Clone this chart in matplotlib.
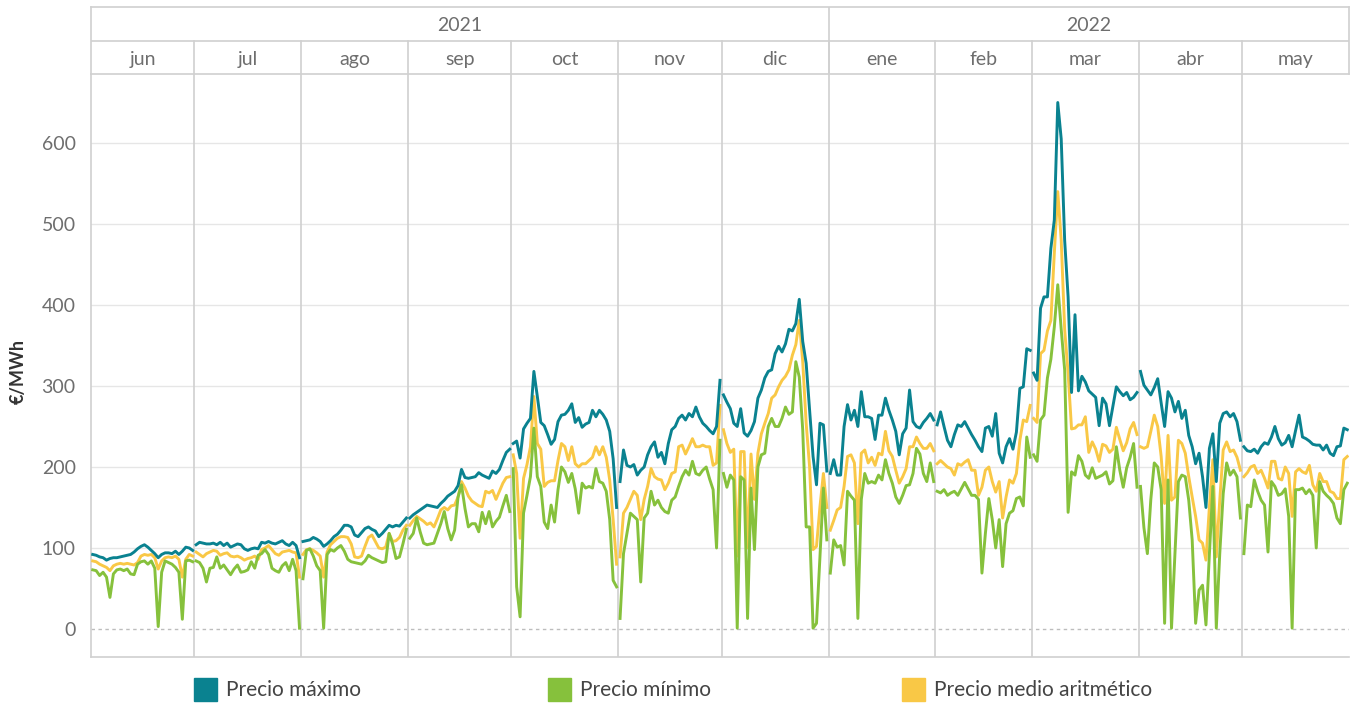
import numpy as np
import matplotlib.pyplot as plt
from matplotlib.patches import Rectangle

plt.rcParams['font.family'] = ['Lato', 'DejaVu Sans']

# Month panes (jun 2021 - may 2022)
months = ['jun', 'jul', 'ago', 'sep', 'oct', 'nov', 'dic', 'ene', 'feb', 'mar', 'abr', 'may']
month_days = [30, 31, 31, 30, 31, 30, 31, 31, 28, 31, 30, 31]
years = ['2021', '2022']
year_months = [7, 5]

# Daily prices, EUR/MWh, one row per month
precio_max = [
    [92, 91, 89, 88, 85, 87, 88, 88, 89, 90, 91, 92, 95, 99, 102, 104, 101, 97, 93, 88, 92, 94, 94, 93, 96, 92, 96, 101, 100, 97],
    [104, 107, 106, 105, 105, 106, 104, 107, 103, 106, 101, 103, 105, 104, 99, 97, 99, 100, 99, 107, 106, 108, 106, 105, 107, 109, 105, 103, 107, 103, 88],
    [108, 109, 110, 113, 111, 108, 102, 105, 109, 114, 117, 122, 128, 128, 126, 116, 114, 119, 124, 126, 123, 121, 114, 118, 123, 128, 126, 128, 127, 132, 137],
    [137, 141, 144, 147, 150, 153, 152, 151, 150, 155, 159, 164, 167, 170, 177, 197, 187, 186, 187, 188, 193, 190, 188, 186, 195, 192, 197, 208, 218, 222],
    [229, 232, 211, 247, 254, 260, 318, 287, 255, 251, 240, 228, 234, 256, 264, 265, 270, 278, 255, 261, 249, 253, 255, 270, 262, 270, 265, 258, 244, 210, 150],
    [182, 221, 202, 200, 203, 190, 196, 200, 215, 225, 231, 212, 218, 204, 229, 246, 250, 260, 264, 258, 266, 262, 274, 262, 254, 250, 245, 241, 250, 307],
    [289, 280, 272, 254, 250, 272, 242, 238, 245, 256, 285, 295, 310, 318, 320, 340, 349, 342, 352, 370, 368, 377, 407, 355, 328, 270, 213, 178, 254, 252, 195],
    [192, 209, 190, 190, 250, 277, 258, 270, 250, 293, 262, 262, 260, 234, 264, 264, 285, 270, 258, 244, 215, 241, 248, 295, 256, 250, 248, 255, 260, 266, 258],
    [252, 268, 250, 233, 225, 240, 252, 250, 256, 248, 240, 233, 225, 219, 248, 250, 238, 266, 217, 205, 225, 235, 222, 243, 297, 299, 346, 344],
    [316, 307, 396, 410, 410, 470, 505, 650, 605, 480, 410, 292, 388, 294, 312, 305, 294, 290, 286, 251, 285, 278, 251, 275, 299, 293, 288, 292, 283, 286, 292],
    [318, 301, 295, 289, 298, 309, 279, 250, 293, 285, 268, 281, 260, 270, 239, 225, 204, 217, 188, 150, 223, 241, 182, 254, 266, 268, 262, 266, 256, 233],
    [225, 220, 219, 222, 217, 225, 230, 228, 237, 250, 235, 227, 230, 239, 225, 245, 264, 237, 235, 232, 228, 227, 227, 221, 227, 217, 214, 225, 226, 248, 246],
]

precio_min = [
    [73, 72, 66, 70, 64, 39, 68, 73, 74, 72, 74, 68, 67, 80, 83, 84, 80, 84, 75, 3, 70, 84, 82, 80, 76, 70, 12, 84, 85, 83],
    [84, 82, 75, 58, 75, 76, 89, 75, 79, 73, 67, 74, 79, 70, 71, 73, 83, 75, 91, 93, 98, 92, 75, 72, 70, 78, 82, 72, 86, 72, 1],
    [62, 97, 99, 90, 78, 72, 1, 92, 98, 96, 100, 103, 96, 86, 83, 82, 81, 80, 84, 91, 88, 86, 84, 82, 83, 118, 105, 87, 89, 105, 123],
    [112, 118, 137, 120, 106, 104, 105, 106, 118, 130, 145, 124, 110, 122, 163, 178, 149, 126, 130, 130, 120, 144, 130, 145, 126, 133, 138, 152, 165, 145],
    [198, 52, 15, 143, 165, 188, 248, 188, 176, 132, 124, 153, 132, 172, 200, 194, 181, 192, 173, 143, 180, 174, 176, 174, 198, 182, 180, 170, 135, 60, 52],
    [13, 93, 118, 143, 139, 135, 58, 137, 143, 170, 153, 159, 150, 145, 143, 159, 163, 176, 188, 196, 190, 207, 192, 190, 196, 200, 185, 172, 100, 233],
    [192, 175, 190, 184, 1, 188, 184, 13, 174, 98, 200, 215, 217, 250, 260, 250, 250, 260, 274, 265, 268, 330, 311, 246, 126, 126, 1, 7, 89, 174, 110],
    [69, 110, 101, 103, 79, 170, 164, 159, 13, 160, 192, 180, 182, 180, 190, 184, 209, 192, 180, 163, 155, 165, 177, 178, 192, 223, 216, 192, 182, 205, 182],
    [170, 168, 172, 165, 168, 170, 165, 173, 181, 173, 165, 165, 160, 69, 118, 161, 135, 100, 135, 77, 130, 143, 146, 161, 163, 152, 237, 212],
    [215, 207, 258, 264, 310, 333, 373, 425, 370, 320, 144, 194, 190, 214, 207, 190, 186, 199, 186, 188, 190, 194, 179, 183, 225, 196, 175, 199, 212, 229, 175],
    [176, 125, 93, 160, 205, 200, 172, 7, 184, 1, 93, 182, 190, 188, 159, 110, 7, 48, 54, 5, 93, 176, 1, 93, 167, 205, 190, 196, 188, 137],
    [93, 153, 151, 184, 170, 159, 153, 95, 182, 176, 165, 167, 173, 139, 1, 172, 172, 174, 167, 172, 165, 100, 182, 170, 165, 161, 155, 137, 130, 172, 180],
]

precio_medio = [
    [84, 83, 80, 78, 76, 72, 78, 80, 81, 80, 81, 80, 79, 82, 90, 92, 91, 92, 88, 74, 84, 88, 89, 88, 90, 86, 64, 86, 92, 90],
    [95, 92, 89, 93, 95, 97, 96, 91, 93, 94, 90, 89, 90, 88, 85, 87, 88, 90, 86, 98, 100, 103, 98, 93, 91, 95, 96, 97, 95, 94, 64],
    [92, 98, 99, 97, 94, 90, 64, 95, 104, 108, 112, 114, 114, 113, 105, 89, 88, 90, 102, 113, 116, 108, 100, 99, 101, 118, 108, 109, 113, 122, 128],
    [128, 134, 139, 136, 133, 129, 131, 126, 136, 147, 150, 147, 152, 153, 163, 182, 174, 164, 158, 155, 152, 151, 170, 168, 171, 160, 170, 180, 187, 188],
    [215, 192, 112, 186, 203, 225, 287, 229, 222, 176, 181, 183, 183, 208, 229, 225, 208, 225, 204, 200, 204, 204, 208, 212, 225, 215, 225, 212, 184, 135, 80],
    [89, 143, 150, 160, 170, 165, 135, 160, 176, 198, 188, 185, 184, 172, 180, 192, 194, 225, 227, 216, 225, 235, 225, 225, 227, 225, 225, 202, 205, 276],
    [246, 229, 218, 222, 90, 219, 219, 100, 216, 160, 217, 241, 254, 266, 285, 289, 299, 307, 312, 320, 338, 351, 381, 330, 254, 200, 98, 102, 151, 192, 150],
    [122, 134, 147, 150, 176, 213, 215, 205, 130, 217, 221, 205, 212, 202, 217, 215, 244, 220, 213, 196, 180, 188, 198, 225, 225, 237, 229, 223, 223, 229, 220],
    [204, 208, 204, 200, 198, 190, 204, 202, 206, 209, 196, 196, 165, 175, 196, 200, 182, 169, 182, 137, 163, 184, 180, 192, 233, 258, 256, 276],
    [260, 255, 340, 344, 368, 381, 464, 540, 480, 370, 316, 247, 248, 252, 252, 262, 218, 231, 222, 207, 228, 226, 218, 222, 249, 234, 220, 230, 247, 255, 240],
    [225, 223, 225, 244, 264, 250, 213, 155, 239, 159, 163, 233, 229, 217, 188, 163, 139, 110, 106, 85, 151, 209, 89, 159, 221, 231, 219, 221, 212, 196],
    [188, 193, 200, 202, 192, 196, 186, 174, 207, 207, 186, 184, 200, 192, 139, 194, 198, 194, 192, 202, 178, 170, 192, 182, 182, 170, 168, 161, 161, 209, 213],
]

series = [
    ('Precio medio aritmético', precio_medio, '#f9c846'),
    ('Precio mínimo', precio_min, '#86c13c'),
    ('Precio máximo', precio_max, '#0a8290'),
]
legend_order = ['Precio máximo', 'Precio mínimo', 'Precio medio aritmético']

W, H = 1356, 704
GRID = '#e6e6e6'
BORDER = '#d0d0d0'
TEXT = '#6e6e6e'

fig = plt.figure(figsize=(W / 100, H / 100), dpi=100)

# main plot area
ax = fig.add_axes([91 / W, 1 - 657 / H, 1258 / W, 583 / H])
ax.set_xlim(0, sum(month_days))
ax.set_ylim(-34.6, 685.2)

for v in range(100, 700, 100):
    ax.axhline(v, color=GRID, lw=1, zorder=0)
ax.axhline(0, color='#bdbdbd', lw=1, ls=(0, (2.5, 2.5)), zorder=0)

bounds = np.cumsum([0] + month_days)
for b in bounds[1:-1]:
    ax.axvline(b, color=BORDER, lw=1.2, zorder=1)

for name, data, color in series:
    for start, n, vals in zip(bounds[:-1], month_days, data):
        assert len(vals) == n, (name, n, len(vals))
        x = start + np.arange(n) + 0.5
        ax.plot(x, vals, color=color, lw=2.1, solid_joinstyle='round', zorder=3)

ax.set_yticks(range(0, 700, 100))
ax.set_xticks([])
ax.tick_params(axis='y', length=0, pad=11, labelsize=14, labelcolor=TEXT)
for side in ['top', 'right']:
    ax.spines[side].set_visible(False)
for side in ['left', 'bottom']:
    ax.spines[side].set_color(BORDER)
    ax.spines[side].set_linewidth(1.2)

# year / month header
hax = fig.add_axes([91 / W, 1 - 74 / H, 1258 / W, 67 / H])
hax.set_xlim(0, sum(month_days))
hax.set_ylim(0, 2)
hax.set_xticks([])
hax.set_yticks([])
for s in hax.spines.values():
    s.set_color(BORDER)
    s.set_linewidth(1.2)
hax.axhline(1, color=BORDER, lw=1.2)
for b in bounds[1:-1]:
    hax.plot([b, b], [0, 1], color=BORDER, lw=1.2)
for m, a, b in zip(months, bounds[:-1], bounds[1:]):
    hax.text((a + b) / 2, 0.44, m, ha='center', va='center', fontsize=14, color=TEXT)

ybounds = [0] + [bounds[k] for k in np.cumsum(year_months)]
for yr, a, b in zip(years, ybounds[:-1], ybounds[1:]):
    hax.text((a + b) / 2, 1.46, yr, ha='center', va='center', fontsize=14, color=TEXT)
for b in ybounds[1:-1]:
    hax.plot([b, b], [0, 2], color=BORDER, lw=1.2)

fig.text(18 / W, 1 - 372 / H, '€/MWh', rotation=90, ha='center', va='center',
         fontsize=13, fontweight='bold', color='#333333')

# legend along the bottom
colors = {name: color for name, _, color in series}
for name, px in zip(legend_order, [194, 548, 902]):
    fig.add_artist(Rectangle((px / W, 1 - 701 / H), 23 / W, 23 / H,
                             transform=fig.transFigure, color=colors[name]))
    fig.text((px + 32) / W, 1 - 690 / H, name, ha='left', va='center',
             fontsize=15, color='#444444')

fig.savefig('out.png', dpi=100)
